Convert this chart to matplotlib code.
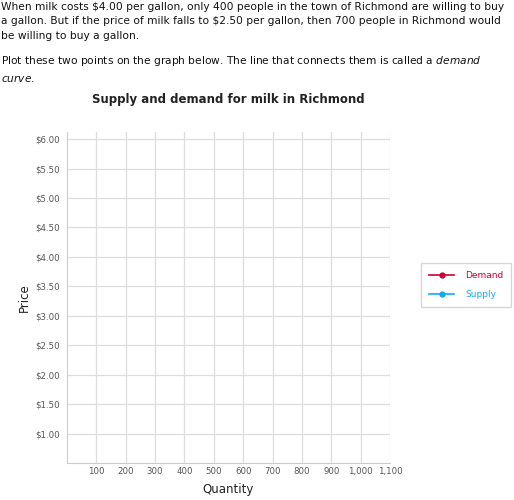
import matplotlib.pyplot as plt
from matplotlib.lines import Line2D

# empty series, the graph is for the reader to fill in
demand_q = []
demand_p = []
supply_q = []
supply_p = []
x_ticks = [100, 200, 300, 400, 500, 600, 700, 800, 900, 1000, 1100]
y_ticks = [1.0, 1.5, 2.0, 2.5, 3.0, 3.5, 4.0, 4.5, 5.0, 5.5, 6.0]

fig = plt.figure(figsize=(5.14, 5.0), dpi=100)
fs = 7.7
fig.text(0.002, 0.997, "When milk costs $4.00 per gallon, only 400 people in the town of Richmond are willing to buy\n"
         "a gallon. But if the price of milk falls to $2.50 per gallon, then 700 people in Richmond would\n"
         "be willing to buy a gallon.", va='top', ha='left', fontsize=fs, linespacing=1.6, color='#111')
fig.text(0.002, 0.892, "Plot these two points on the graph below. The line that connects them is called a $\\it{demand}$\n$\\it{curve}$.",
         va='top', ha='left', fontsize=fs, linespacing=1.6, color='#111')
fig.text(0.445, 0.800, "Supply and demand for milk in Richmond", ha='center', va='center',
         fontsize=8.5, fontweight='bold', color='#222')

ax = fig.add_axes([0.130, 0.074, 0.629, 0.662])
ax.plot(demand_q, demand_p, color='#cc0033', marker='o', label='Demand')
ax.plot(supply_q, supply_p, color='#11aaee', marker='o', label='Supply')
ax.set_xlim(0, 1100)
ax.set_ylim(0.5, 6.12)
ax.set_xticks(x_ticks)
ax.set_xticklabels([f"{v:,}" for v in x_ticks])
ax.set_yticks(y_ticks)
ax.set_yticklabels([f"${v:.2f}" for v in y_ticks])
ax.tick_params(length=0, labelsize=6.2, colors='#555', pad=5)
ax.tick_params(axis='x', pad=3)
ax.grid(color='#dddddd', lw=0.9)
for s in ['top', 'right']:
    ax.spines[s].set_visible(False)
for s in ['left', 'bottom']:
    ax.spines[s].set_color('#cccccc')
ax.set_xlabel("Quantity", fontsize=8.5, color='#222', labelpad=5)
ax.set_ylabel("Price", fontsize=8.5, color='#222', labelpad=3)

handles = [Line2D([0], [0], color='#cc0033', marker='o', markersize=3.5, markevery=[0], lw=1.2),
           Line2D([0], [0], color='#11aaee', marker='o', markersize=3.5, markevery=[0], lw=1.2)]
leg = fig.legend(handles, ['Demand', 'Supply'], loc='center left', bbox_to_anchor=(0.81, 0.43),
                 fontsize=6.5, frameon=True, handlelength=2.8, borderpad=0.9, labelspacing=1.1,
                 handletextpad=1.2, fancybox=False, edgecolor='#cccccc')
leg.get_texts()[0].set_color('#cc0033')
leg.get_texts()[1].set_color('#11aaee')

fig.savefig("out.png", dpi=100)
